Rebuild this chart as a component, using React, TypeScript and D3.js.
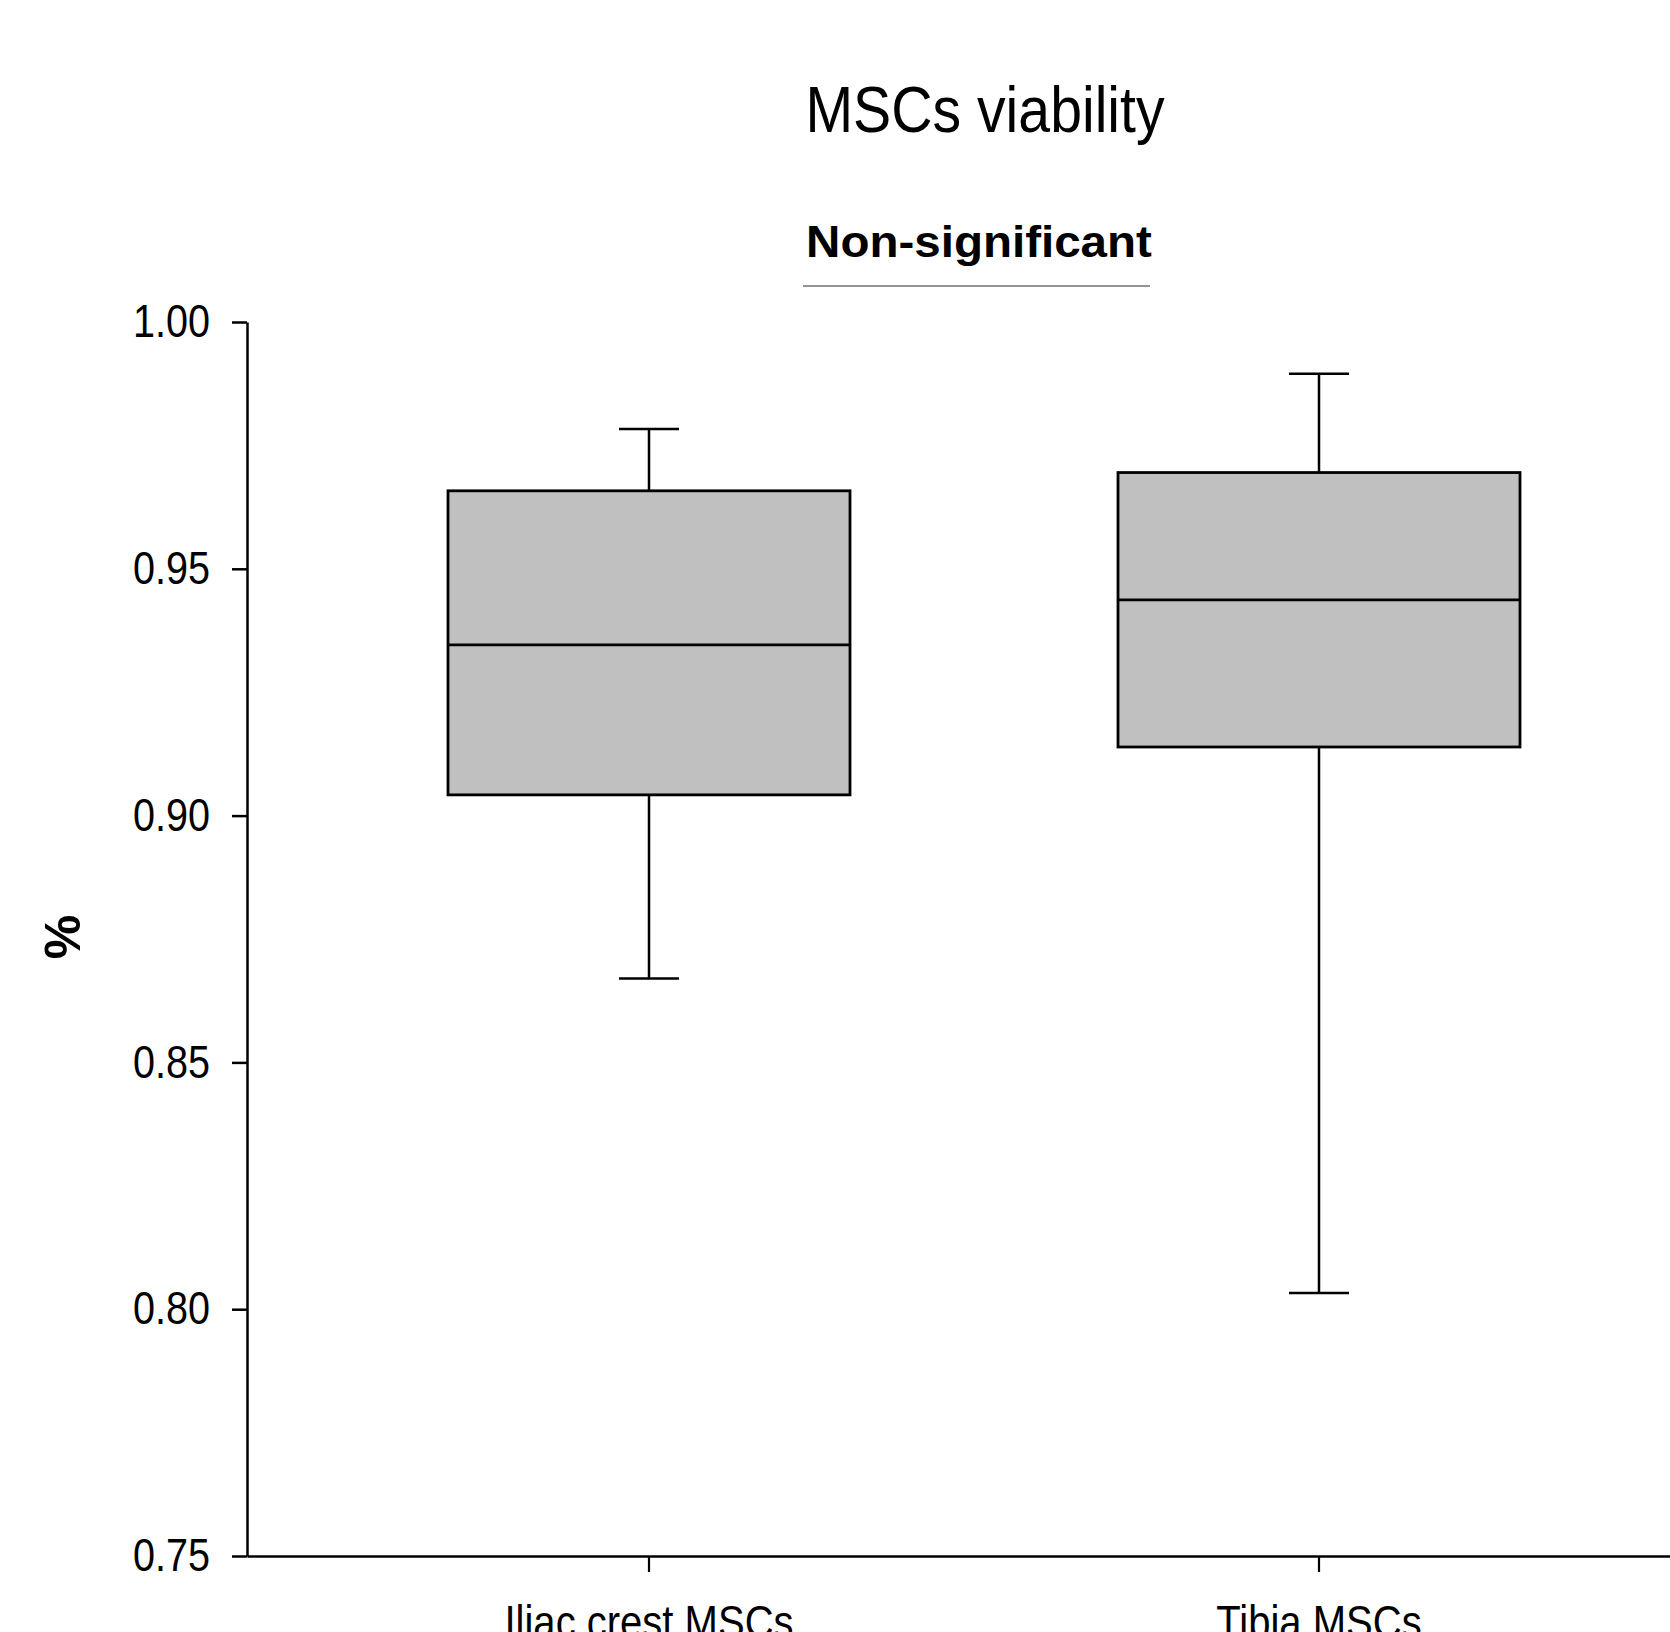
import React, { useEffect, useRef } from 'react';
import * as d3 from 'd3';

// values
const categories = ['Iliac crest MSCs', 'Tibia MSCs'];
const whiskerLow = [0.867, 0.8033];
const quartile1 = [0.9042, 0.9139];
const medians = [0.9346, 0.9437];
const quartile3 = [0.9658, 0.9695];
const whiskerHigh = [0.9783, 0.9895];
const yTicks = [0.75, 0.8, 0.85, 0.9, 0.95, 1.0];

const chartTitle = 'MSCs viability';
const sigLabel = 'Non-significant';
const yLabel = '%';

const W = 1670;
const H = 1632;
const FONT = '"Liberation Sans", Arial, Helvetica, sans-serif';

// squeeze/stretch text horizontally to mimic the narrow font of the original
const fitText = (sel, ratio) => {
  sel.each(function () {
    const node = this as SVGTextElement;
    const len = node.getComputedTextLength();
    d3.select(node).attr('textLength', len * ratio).attr('lengthAdjust', 'spacingAndGlyphs');
  });
};

const BoxPlot = () => {
  const svgRef = useRef(null);

  useEffect(() => {
    const svg = d3.select(svgRef.current);
    svg.selectAll('*').remove();

    const margin = { top: 322, left: 247, bottom: H - 1556 };

    const y = d3.scaleLinear().domain([0.75, 1.0]).range([H - margin.bottom, margin.top]);
    const x = d3
      .scaleBand()
      .domain(categories)
      .range([margin.left, 1721])
      .paddingInner(0.4)
      .paddingOuter(0.3);

    const rows = categories.map((c, i) => ({
      cat: c,
      lo: whiskerLow[i],
      q1: quartile1[i],
      med: medians[i],
      q3: quartile3[i],
      hi: whiskerHigh[i],
    }));

    // Title
    svg
      .append('text')
      .attr('x', 985)
      .attr('y', 132)
      .attr('text-anchor', 'middle')
      .style('font-family', FONT)
      .style('font-size', '65px')
      .text(chartTitle)
      .call(fitText, 0.88);

    // significance label + bar
    svg
      .append('text')
      .attr('x', 979)
      .attr('y', 257)
      .attr('text-anchor', 'middle')
      .style('font-family', FONT)
      .style('font-size', '44px')
      .style('font-weight', 'bold')
      .text(sigLabel)
      .call(fitText, 1.08);

    svg
      .append('line')
      .attr('x1', 803)
      .attr('x2', 1150)
      .attr('y1', 286)
      .attr('y2', 286)
      .attr('stroke', '#707070')
      .attr('stroke-width', 1.6);

    // Whiskers
    const cx = d => x(d.cat) + x.bandwidth() / 2;
    const capHalf = 30;
    const g = svg.append('g').attr('stroke', '#000').attr('stroke-width', 2.5);

    rows.forEach(d => {
      g.append('line').attr('x1', cx(d)).attr('x2', cx(d)).attr('y1', y(d.hi)).attr('y2', y(d.q3));
      g.append('line').attr('x1', cx(d)).attr('x2', cx(d)).attr('y1', y(d.q1)).attr('y2', y(d.lo));
      g.append('line').attr('x1', cx(d) - capHalf).attr('x2', cx(d) + capHalf).attr('y1', y(d.hi)).attr('y2', y(d.hi));
      g.append('line').attr('x1', cx(d) - capHalf).attr('x2', cx(d) + capHalf).attr('y1', y(d.lo)).attr('y2', y(d.lo));
    });

    // Boxes
    svg
      .selectAll('rect.box')
      .data(rows)
      .enter()
      .append('rect')
      .attr('class', 'box')
      .attr('x', d => x(d.cat))
      .attr('width', x.bandwidth())
      .attr('y', d => y(d.q3))
      .attr('height', d => y(d.q1) - y(d.q3))
      .attr('fill', '#c0c0c0')
      .attr('stroke', '#000')
      .attr('stroke-width', 2.8);

    svg
      .selectAll('line.median')
      .data(rows)
      .enter()
      .append('line')
      .attr('class', 'median')
      .attr('x1', d => x(d.cat))
      .attr('x2', d => x(d.cat) + x.bandwidth())
      .attr('y1', d => y(d.med))
      .attr('y2', d => y(d.med))
      .attr('stroke', '#000')
      .attr('stroke-width', 2.8);

    // Y axis
    const yAxis = svg
      .append('g')
      .attr('transform', `translate(${margin.left},0)`)
      .call(
        d3
          .axisLeft(y)
          .tickValues(yTicks)
          .tickFormat(d3.format('.2f'))
          .tickSize(15)
          .tickSizeOuter(0)
          .tickPadding(22)
      );
    yAxis.select('.domain').attr('stroke-width', 2.5);
    yAxis.selectAll('.tick line').attr('stroke-width', 2.5);
    yAxis
      .selectAll('.tick text')
      .style('font-family', FONT)
      .style('font-size', '46px')
      .attr('fill', '#000')
      .call(fitText, 0.86);

    // X axis
    const xAxis = svg
      .append('g')
      .attr('transform', `translate(0,${H - margin.bottom})`)
      .call(d3.axisBottom(x).tickSize(16).tickSizeOuter(0).tickPadding(33));
    xAxis.select('.domain').attr('stroke-width', 2.5);
    xAxis.selectAll('.tick line').attr('stroke-width', 2.2);
    xAxis
      .selectAll('.tick text')
      .style('font-family', FONT)
      .style('font-size', '46px')
      .attr('fill', '#000')
      .call(fitText, 0.87);

    // Y label
    svg
      .append('text')
      .attr('transform', 'translate(80,937) rotate(-90)')
      .attr('text-anchor', 'middle')
      .style('font-family', FONT)
      .style('font-size', '50px')
      .style('font-weight', 'bold')
      .text(yLabel);
  }, []);

  return (
    <svg
      ref={svgRef}
      width={W}
      height={H}
      style={{ position: 'absolute', left: 0, top: 0, background: '#fff' }}
    ></svg>
  );
};

export default function App() {
  return <BoxPlot />;
}
